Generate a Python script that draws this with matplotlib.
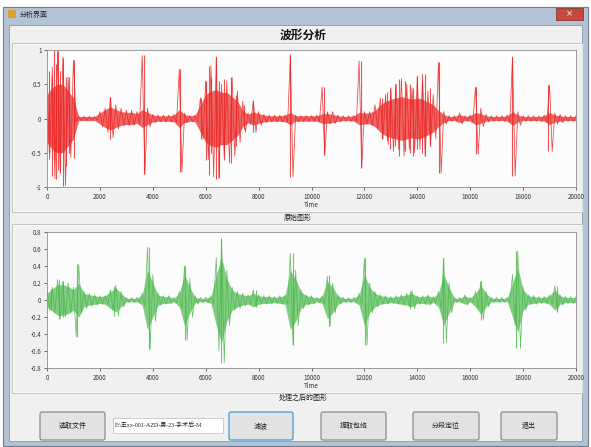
import matplotlib.pyplot as plt
from matplotlib.patches import Rectangle, FancyBboxPatch
import numpy as np

plt.rcParams['font.family'] = ['Noto Sans CJK SC', 'DejaVu Sans']

# dense core amplitude of the raw signal, read every 200 samples
raw_core = [0.35, 0.45, 0.5, 0.5, 0.4, 0.3, 0.03, 0.03, 0.03, 0.03,
            0.08, 0.13, 0.17, 0.13, 0.1, 0.09, 0.09, 0.07, 0.13, 0.09,
            0.05, 0.04, 0.04, 0.04, 0.05, 0.13, 0.06, 0.04, 0.05, 0.2,
            0.35, 0.4, 0.42, 0.38, 0.38, 0.32, 0.25, 0.12, 0.06, 0.1,
            0.07, 0.05, 0.04, 0.04, 0.04, 0.05, 0.09, 0.04, 0.04, 0.04,
            0.04, 0.04, 0.07, 0.07, 0.06, 0.04, 0.03, 0.03, 0.04, 0.09,
            0.08, 0.08, 0.12, 0.2, 0.25, 0.28, 0.3, 0.32, 0.3, 0.28,
            0.3, 0.28, 0.24, 0.2, 0.12, 0.06, 0.03, 0.03, 0.06, 0.03,
            0.04, 0.09, 0.07, 0.04, 0.03, 0.03, 0.03, 0.04, 0.1, 0.05,
            0.03, 0.03, 0.03, 0.03, 0.04, 0.09, 0.05, 0.04, 0.03, 0.03,
            0.03]
# outer envelope of the raw signal: upper peak at k*200, lower at k*200+100
raw_up = [0.45, 0.75, 1.0, 0.9, 0.6, 0.85, 0.03, 0.03, 0.03, 0.03,
          0.1, 0.15, 0.31, 0.2, 0.15, 0.12, 0.12, 0.1, 0.92, 0.15,
          0.06, 0.05, 0.05, 0.05, 0.06, 0.72, 0.08, 0.04, 0.05, 0.3,
          0.55, 0.77, 0.9, 0.5, 0.55, 0.6, 0.4, 0.25, 0.08, 0.26,
          0.1, 0.06, 0.05, 0.05, 0.05, 0.05, 0.93, 0.05, 0.04, 0.04,
          0.04, 0.05, 0.46, 0.1, 0.1, 0.05, 0.04, 0.04, 0.04, 0.84,
          0.1, 0.1, 0.2, 0.3, 0.35, 0.45, 0.5, 0.58, 0.5, 0.45,
          0.62, 0.65, 0.4, 0.35, 0.82, 0.1, 0.04, 0.04, 0.08, 0.04,
          0.05, 0.46, 0.15, 0.06, 0.04, 0.04, 0.04, 0.05, 0.9, 0.1,
          0.04, 0.04, 0.04, 0.04, 0.05, 0.49, 0.08, 0.06, 0.04, 0.04,
          0.04]
raw_lo = [-0.6, -0.88, -0.78, -0.98, -0.57, -0.05, -0.03, -0.03, -0.03, -0.03,
          -0.12, -0.2, -0.28, -0.15, -0.1, -0.1, -0.1, -0.08, -0.81, -0.12,
          -0.06, -0.05, -0.05, -0.05, -0.06, -0.78, -0.06, -0.04, -0.05, -0.3,
          -0.6, -0.85, -0.88, -0.55, -0.65, -0.55, -0.35, -0.2, -0.08, -0.2,
          -0.1, -0.06, -0.05, -0.05, -0.05, -0.05, -0.85, -0.05, -0.04, -0.04,
          -0.04, -0.05, -0.54, -0.08, -0.07, -0.05, -0.04, -0.04, -0.04, -0.72,
          -0.08, -0.1, -0.15, -0.3, -0.38, -0.48, -0.45, -0.55, -0.45, -0.5,
          -0.45, -0.55, -0.4, -0.3, -0.8, -0.08, -0.04, -0.04, -0.08, -0.04,
          -0.05, -0.52, -0.12, -0.05, -0.04, -0.04, -0.04, -0.05, -0.84, -0.1,
          -0.04, -0.04, -0.04, -0.04, -0.05, -0.48, -0.08, -0.06, -0.04, -0.04]
# single peaks of the raw signal: sample, top, bottom
raw_spk_x = [60, 180, 280, 350, 400, 500, 590, 720, 850, 1010,
             2380, 3680, 5040,
             5830, 6020, 6110, 6200, 6400, 6520, 6710, 6960, 7150, 7430,
             7780, 9170, 10480, 11870,
             12650, 12840, 12970, 13160, 13320, 13535, 13720, 13850, 14000,
             14165, 14290, 14480, 14830,
             16220, 17590, 18960]
raw_spk_top = [0.7, 0.6, 1.0, 0.8, 0.99, 0.7, 0.88, 0.6, 0.6, 0.85,
               0.31, 0.93, 0.72,
               0.3, 0.55, 0.77, 0.6, 0.9, 0.55, 0.58, 0.6, 0.35, 0.2,
               0.26, 0.93, 0.46, 0.84,
               0.3, 0.38, 0.45, 0.5, 0.58, 0.55, 0.5, 0.45, 0.62,
               0.5, 0.65, 0.45, 0.82,
               0.46, 0.9, 0.49]
raw_spk_bot = [-0.5, -0.84, -0.6, -0.89, -0.75, -0.8, -0.98, -0.69, -0.5, -0.57,
               -0.3, -0.81, -0.78,
               -0.3, -0.6, -0.82, -0.5, -0.88, -0.85, -0.6, -0.65, -0.4, -0.15,
               -0.2, -0.85, -0.54, -0.72,
               -0.3, -0.32, -0.45, -0.4, -0.55, -0.48, -0.5, -0.55, -0.45,
               -0.5, -0.55, -0.4, -0.8,
               -0.52, -0.84, -0.48]

# dense core amplitude of the filtered signal
flt_core = [0.08, 0.13, 0.18, 0.18, 0.16, 0.12, 0.2, 0.08, 0.06, 0.05,
            0.04, 0.05, 0.1, 0.14, 0.08, 0.02, 0.02, 0.02, 0.06, 0.35,
            0.2, 0.06, 0.04, 0.04, 0.02, 0.08, 0.3, 0.15, 0.03, 0.02,
            0.02, 0.04, 0.3, 0.5, 0.25, 0.12, 0.08, 0.06, 0.05, 0.08,
            0.05, 0.04, 0.04, 0.03, 0.04, 0.05, 0.35, 0.25, 0.1, 0.05,
            0.04, 0.02, 0.04, 0.22, 0.15, 0.05, 0.02, 0.02, 0.02, 0.06,
            0.3, 0.15, 0.08, 0.05, 0.04, 0.03, 0.04, 0.05, 0.06, 0.08,
            0.04, 0.04, 0.05, 0.03, 0.08, 0.3, 0.15, 0.02, 0.02, 0.05,
            0.02, 0.08, 0.17, 0.08, 0.02, 0.02, 0.02, 0.02, 0.2, 0.38,
            0.12, 0.05, 0.04, 0.03, 0.03, 0.05, 0.12, 0.05, 0.03, 0.03,
            0.03]
flt_up = [0.1, 0.15, 0.24, 0.22, 0.2, 0.15, 0.42, 0.1, 0.08, 0.06,
          0.05, 0.05, 0.12, 0.17, 0.1, 0.03, 0.03, 0.03, 0.08, 0.62,
          0.3, 0.08, 0.05, 0.05, 0.03, 0.1, 0.4, 0.25, 0.05, 0.03,
          0.03, 0.05, 0.5, 0.72, 0.35, 0.15, 0.1, 0.08, 0.06, 0.12,
          0.06, 0.05, 0.05, 0.04, 0.05, 0.06, 0.55, 0.35, 0.12, 0.06,
          0.05, 0.03, 0.05, 0.28, 0.2, 0.06, 0.03, 0.03, 0.03, 0.08,
          0.49, 0.2, 0.1, 0.06, 0.05, 0.04, 0.05, 0.06, 0.08, 0.11,
          0.05, 0.05, 0.06, 0.04, 0.1, 0.49, 0.2, 0.03, 0.03, 0.06,
          0.03, 0.1, 0.22, 0.1, 0.03, 0.03, 0.03, 0.03, 0.3, 0.58,
          0.15, 0.06, 0.05, 0.04, 0.04, 0.06, 0.17, 0.06, 0.04, 0.04,
          0.04]
flt_lo = [-0.12, -0.15, -0.22, -0.2, -0.15, -0.43, -0.15, -0.1, -0.07, -0.06,
          -0.05, -0.05, -0.12, -0.19, -0.08, -0.03, -0.03, -0.03, -0.08, -0.58,
          -0.25, -0.06, -0.05, -0.04, -0.03, -0.1, -0.47, -0.2, -0.05, -0.03,
          -0.03, -0.05, -0.6, -0.74, -0.3, -0.12, -0.1, -0.07, -0.05, -0.08,
          -0.05, -0.05, -0.04, -0.04, -0.05, -0.05, -0.53, -0.3, -0.1, -0.06,
          -0.05, -0.03, -0.05, -0.31, -0.15, -0.05, -0.03, -0.03, -0.03, -0.06,
          -0.53, -0.15, -0.08, -0.05, -0.05, -0.04, -0.05, -0.06, -0.08, -0.1,
          -0.05, -0.05, -0.06, -0.04, -0.1, -0.5, -0.15, -0.03, -0.03, -0.06,
          -0.03, -0.1, -0.23, -0.08, -0.03, -0.03, -0.03, -0.03, -0.3, -0.57,
          -0.12, -0.05, -0.05, -0.04, -0.04, -0.05, -0.14, -0.06, -0.04, -0.04]
flt_spk_x = [150, 470, 600, 1120, 2550, 3850, 5200, 6560, 7900, 9290,
             10680, 12020, 13720, 14980, 16400, 17750, 19270]
flt_spk_top = [0.13, 0.24, 0.22, 0.42, 0.17, 0.62, 0.4, 0.73, 0.12, 0.55,
               0.3, 0.49, 0.11, 0.49, 0.22, 0.58, 0.17]
flt_spk_bot = [-0.12, -0.22, -0.2, -0.43, -0.19, -0.58, -0.47, -0.74, -0.08, -0.53,
               -0.31, -0.53, -0.1, -0.5, -0.23, -0.57, -0.14]

step = 200
xticks = [0, 2000, 4000, 6000, 8000, 10000, 12000, 14000, 16000, 18000, 20000]
raw_yticks = [-1, -0.5, 0, 0.5, 1]
raw_ylabels = ['-1', '-0.5', '0', '0.5', '1']
flt_yticks = [-0.8, -0.6, -0.4, -0.2, 0, 0.2, 0.4, 0.6, 0.8]
flt_ylabels = ['-0.8', '-0.6', '-0.4', '-0.2', '0', '0.2', '0.4', '0.6', '0.8']

buttons = ['选取文件', '滤波', '提取包络', '分段定位', '退出']
file_path = r'E:\王xx-001-AZD-男-23-手术后-M'

W, H = 591, 447
fig = plt.figure(figsize=(5.91, 4.47), dpi=100)
fig.patch.set_facecolor('white')

# background axes in pixel coordinates for the window chrome
bg = fig.add_axes([0, 0, 1, 1])
bg.set_xlim(0, W)
bg.set_ylim(H, 0)
bg.axis('off')

bg.add_patch(Rectangle((3, 7), 585, 439, fc='#b3c3d5', ec='#6d7c8c', lw=0.8))
bg.add_patch(Rectangle((9, 25), 573, 416, fc='#f0f0f0', ec='#8a98a8', lw=0.6))
bg.add_patch(Rectangle((8, 10), 8, 8, fc='#e0a030', ec='none'))
bg.text(20, 15, '分析界面', fontsize=5, va='center', color='#222222')
bg.add_patch(Rectangle((556, 8), 27, 12, fc='#c8483e', ec='#7a2a25', lw=0.5))
bg.text(569.5, 14, '×', fontsize=6, ha='center', va='center', color='white',
        family='DejaVu Sans')

bg.text(303, 35, '波形分析', fontsize=8.5, weight='bold', ha='center',
        va='center', color='#111111')

# group boxes
for top, bot in [(43, 212), (224, 393)]:
    bg.add_patch(Rectangle((12, top), 571, bot - top, fc='none', ec='#c4c4c4', lw=0.8))
    bg.add_patch(Rectangle((13, top + 1), 569, bot - top - 2, fc='none', ec='white', lw=0.5))
bg.text(298, 218, '原始图形', fontsize=5, ha='center', va='center', color='#222222')
bg.text(303, 398, '处理之后的图形', fontsize=5, ha='center', va='center', color='#222222')

# buttons and path box
btn_x = [(40, 105), (229, 293), (321, 386), (413, 479), (501, 557)]
for (x0, x1), lab in zip(btn_x, buttons):
    ec = '#3c9bd6' if lab == '滤波' else '#8c8c8c'
    bg.add_patch(FancyBboxPatch((x0, 412), x1 - x0, 28,
                                boxstyle='round,pad=0,rounding_size=2',
                                fc='#e2e2e2', ec=ec, lw=0.9))
    bg.text((x0 + x1) / 2, 426, lab, fontsize=5, ha='center', va='center',
            color='#222222')
bg.add_patch(Rectangle((113, 418), 110, 15, fc='white', ec='#bbbbbb', lw=0.5))
bg.text(115, 425.5, file_path, fontsize=4.3, va='center', color='#222222',
        family=['Liberation Serif', 'Noto Sans CJK SC'])


def style(ax, yt, ylab):
    ax.set_facecolor('#fcfcfc')
    ax.set_xlim(0, 20000)
    ax.set_xticks(xticks)
    ax.set_xticklabels([str(t) for t in xticks])
    ax.set_yticks(yt)
    ax.set_yticklabels(ylab)
    ax.set_ylim(yt[0], yt[-1])
    ax.tick_params(direction='out', length=2.5, width=0.5, labelsize=4.5,
                   pad=1.5, colors='#333333')
    for s in ax.spines.values():
        s.set_color('#8c8c8c')
        s.set_linewidth(0.6)
    ax.set_xlabel('Time', fontsize=4.5, labelpad=0.5, color='#333333')


def wave(ax, core, up, lo, sx, st, sb, color):
    xs = np.arange(len(core)) * step
    amp = np.array(core)
    ax.fill_between(xs, -amp, amp, color=color, lw=0, alpha=0.7)
    # zigzag through the outer envelope
    n = len(up) + len(lo)
    zx = np.empty(n)
    zy = np.empty(n)
    zx[0::2] = np.arange(len(up)) * step
    zx[1::2] = np.arange(len(lo)) * step + step / 2
    zy[0::2] = up
    zy[1::2] = lo
    ax.plot(zx, zy, color=color, lw=0.55, alpha=0.85)
    ax.vlines(sx, sb, st, color=color, lw=0.8, alpha=0.8)


ax1 = fig.add_axes([47 / W, 1 - 187 / H, 529 / W, 137 / H])
wave(ax1, raw_core, raw_up, raw_lo, raw_spk_x, raw_spk_top, raw_spk_bot, '#ec2424')
style(ax1, raw_yticks, raw_ylabels)

ax2 = fig.add_axes([47 / W, 1 - 368 / H, 529 / W, 136 / H])
wave(ax2, flt_core, flt_up, flt_lo, flt_spk_x, flt_spk_top, flt_spk_bot, '#4cb84c')
style(ax2, flt_yticks, flt_ylabels)

fig.savefig('out.png', dpi=100, facecolor=fig.get_facecolor())
